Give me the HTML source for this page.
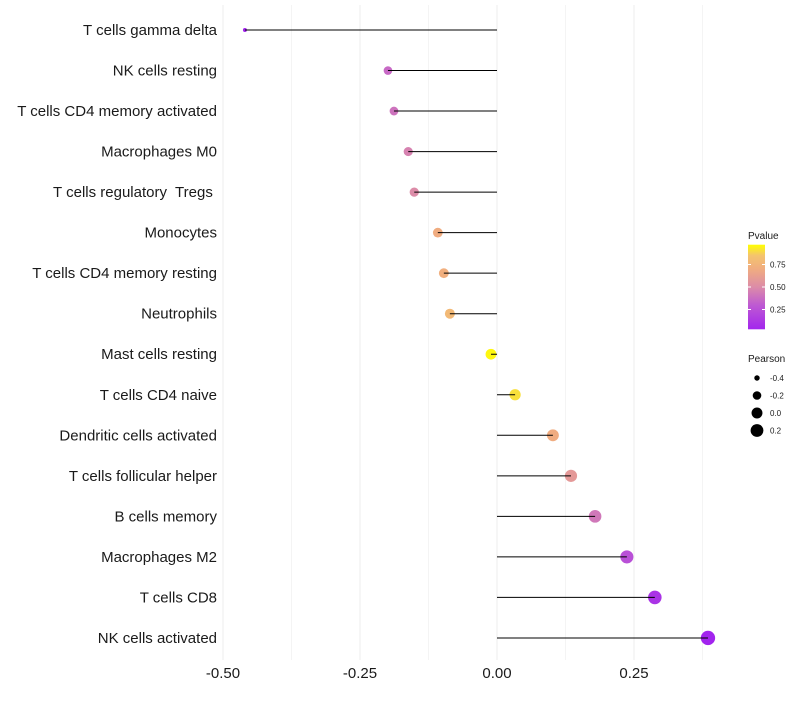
<!DOCTYPE html>
<html><head><meta charset="utf-8"><style>
body{margin:0;background:#fff;font-family:"Liberation Sans",sans-serif}
text{white-space:pre}
</style></head><body>
<svg id="chart" width="800" height="700" font-family="Liberation Sans, sans-serif"></svg>
<script>
const categories=["T cells gamma delta","NK cells resting","T cells CD4 memory activated","Macrophages M0","T cells regulatory  Tregs ","Monocytes","T cells CD4 memory resting","Neutrophils","Mast cells resting","T cells CD4 naive","Dendritic cells activated","T cells follicular helper","B cells memory","Macrophages M2","T cells CD8","NK cells activated"];
const pearson=[-0.46,-0.199,-0.188,-0.162,-0.151,-0.108,-0.097,-0.086,-0.011,0.033,0.102,0.135,0.179,0.237,0.288,0.385];
const pvalue=[0.02,0.36,0.4,0.46,0.5,0.7,0.72,0.78,0.98,0.92,0.7,0.58,0.42,0.25,0.1,0.02];
const xTicks=[-0.5,-0.25,0,0.25];
const xTickLabels=["-0.50","-0.25","0.00","0.25"];
const colorTicks=[0.25,0.5,0.75];
const sizeTicks=[-0.4,-0.2,0,0.2];

const svg=document.getElementById('chart');
const NS='http://www.w3.org/2000/svg';
function mk(t,a,p){const e=document.createElementNS(NS,t);for(const k in a)e.setAttribute(k,a[k]);(p||svg).appendChild(e);return e;}
const x=v=>497+v*548;
const y=i=>30+i*40.53;
const cy=v=>332-v*90;
const r=v=>Math.sqrt(4+56*(v+0.46));
const stops=[[0,[160,32,240]],[0.3,[190,90,210]],[0.5,[220,140,168]],[0.7,[240,172,128]],[0.85,[244,196,110]],[1,[255,255,0]]];
function col(p){for(let k=1;k<stops.length;k++){if(p<=stops[k][0]){const [a,ca]=stops[k-1],[b,cb]=stops[k];const t=(p-a)/(b-a);return `rgb(${ca.map((c,i)=>Math.round(c+(cb[i]-c)*t))})`;}}return 'rgb(255,255,0)';}

const grid=mk('g',{});


for(let v=-0.5;v<=0.38;v+=0.125){mk('line',{x1:x(v),x2:x(v),y1:5,y2:660,stroke:'#f0f0f0','stroke-width':Math.abs((v/0.25)%1)<0.01?1.2:0.7},grid);}
categories.forEach((c,i)=>{
 const t=mk('text',{x:217,y:y(i)+5,'text-anchor':'end','font-size':15,fill:'#1a1a1a'});t.textContent=c;
 
 
 const d=mk('circle',{cx:x(pearson[i]),cy:y(i),r:r(pearson[i]),fill:col(pvalue[i])});
 
 
 const l=mk('line',{x1:x(0),x2:x(pearson[i]),y1:y(i),y2:y(i),stroke:'#000','stroke-width':1});
 
 
});
xTicks.forEach((v,i)=>{const t=mk('text',{x:x(v),y:678,'text-anchor':'middle','font-size':15,fill:'#1a1a1a'});t.textContent=xTickLabels[i];
 
 });
const lt=mk('text',{x:748,y:239,'font-size':10,fill:'#1a1a1a'});lt.textContent='Pvalue';


const defs=mk('defs',{});const gr=mk('linearGradient',{id:'pg',x1:0,y1:1,x2:0,y2:0},defs);
const o0=0.03,o1=0.97;
stops.forEach(s=>{const o=(s[0]-o0)/(o1-o0);if(o>=-0.05&&o<=1.05)mk('stop',{offset:Math.min(1,Math.max(0,o)),'stop-color':col(s[0])},gr);});
mk('stop',{offset:0,'stop-color':col(o0)},gr);
const cb=mk('rect',{x:748,y:cy(o1),width:17,height:cy(o0)-cy(o1),fill:'url(#pg)'});


Array.from(gr.children).sort((a,b)=>a.getAttribute('offset')-b.getAttribute('offset')).forEach(s=>gr.appendChild(s));
colorTicks.forEach(v=>{mk('line',{x1:748,x2:751,y1:cy(v),y2:cy(v),stroke:'#fff'});mk('line',{x1:762,x2:765,y1:cy(v),y2:cy(v),stroke:'#fff'});
 const t=mk('text',{x:770,y:cy(v)+3,'font-size':8,fill:'#1a1a1a'});t.textContent=v.toFixed(2);
 
 });
const st=mk('text',{x:748,y:362,'font-size':10,fill:'#1a1a1a'});st.textContent='Pearson';


sizeTicks.forEach((v,i)=>{const yy=378+i*17.5;const c=mk('circle',{cx:757,cy:yy,r:r(v),fill:'#000'});
 
 
 const t=mk('text',{x:770,y:yy+3,'font-size':8,fill:'#1a1a1a'});t.textContent=v.toFixed(1);
 
 });
</script>
</body></html>
